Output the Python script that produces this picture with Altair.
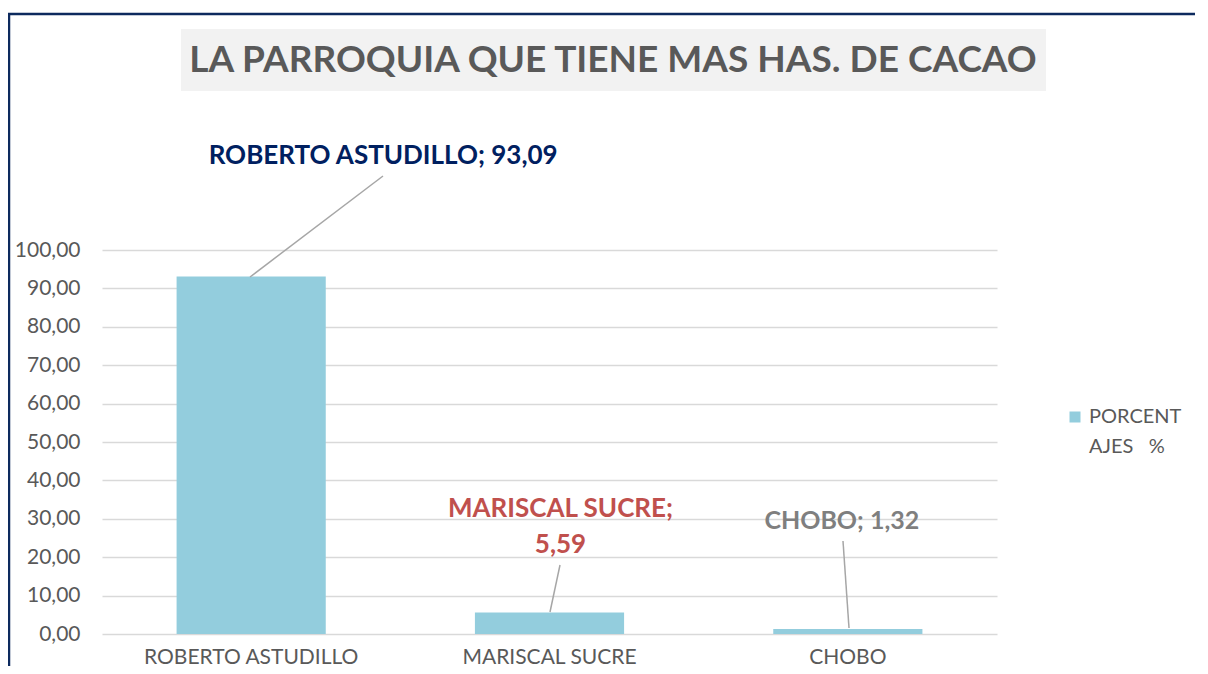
import altair as alt
import pandas as pd

categories = ["ROBERTO ASTUDILLO", "MARISCAL SUCRE", "CHOBO"]
values = [93.09, 5.59, 1.32]
value_labels = ["93,09", "5,59", "1,32"]
series_name = ["PORCENT", "AJES\u00a0\u00a0\u00a0%"]
title_text = "LA PARROQUIA QUE TIENE MAS HAS. DE CACAO"
y_ticks = [0, 10, 20, 30, 40, 50, 60, 70, 80, 90, 100]

FONT = "Lato"
GRAY = "#595959"
BAR = "#93CDDD"

df = pd.DataFrame({"cat": categories, "val": values, "lab": value_labels})
df["label"] = df["cat"] + "; " + df["lab"]
one = pd.DataFrame({"a": [0]})

W, H = 895, 384

xenc = alt.X("cat:N", sort=categories, title=None,
             scale=alt.Scale(paddingInner=0.5, paddingOuter=0.25),
             axis=alt.Axis(labelAngle=0, labelFontSize=21, labelColor=GRAY, labelFont=FONT,
                           domain=False, ticks=False, labelPadding=12, labelBaseline="top",
                           labelLimit=0, labelOverlap=False))
yenc = alt.Y("val:Q", title=None,
             scale=alt.Scale(domain=[0, 100], nice=False),
             axis=alt.Axis(values=y_ticks, tickCount=11,
                           labelExpr="replace(format(datum.value, '.2f'), '.', ',')",
                           labelFontSize=21, labelColor=GRAY, labelFont=FONT, domain=False, ticks=False,
                           labelPadding=22, gridColor="#D9D9D9", gridWidth=1.5,
                           labelOverlap=False, labelFlush=False))

base = alt.Chart(df)

bars = base.mark_bar(color=BAR).encode(x=xenc, y=yenc)

lab_rob = base.transform_filter(alt.datum.cat == categories[0]).mark_text(
    font=FONT, fontSize=26, fontWeight="bold", color="#002060", dx=132, dy=-121, baseline="middle"
).encode(x=xenc, y=yenc, text="label:N")

lab_mar = base.transform_filter(alt.datum.cat == categories[1]).transform_calculate(
    lines="[datum.cat + ';', datum.lab]"
).mark_text(
    font=FONT, fontSize=26, fontWeight="bold", color="#C0504D", dx=11, dy=-104, baseline="middle",
    lineHeight=36
).encode(x=xenc, y=yenc, text="lines:N")

lab_cho = base.transform_filter(alt.datum.cat == categories[2]).mark_text(
    font=FONT, fontSize=25, fontWeight="bold", color="#7F7F7F", dx=-6, dy=-108, baseline="middle"
).encode(x=xenc, y=yenc, text="label:N")

leader_color = "#A6A6A6"
leaders = []
for (x1, y1, x2, y2) in [(281, -74, 148, 27), (458, 315, 448, 362), (741, 291, 747, 378)]:
    leaders.append(alt.Chart(one).mark_rule(color=leader_color, strokeWidth=1.5).encode(
        x=alt.value(x1), y=alt.value(y1), x2=alt.value(x2), y2=alt.value(y2)))

# frame border
border_top = alt.Chart(one).mark_rule(color="#0D2A5E", strokeWidth=2.5).encode(
    x=alt.value(-94), x2=alt.value(1110), y=alt.value(-236))
border_left = alt.Chart(one).mark_rule(color="#0D2A5E", strokeWidth=2.5).encode(
    x=alt.value(-93), y=alt.value(-237), y2=alt.value(440))

title_box = alt.Chart(one).mark_rect(color="#F2F2F2").encode(
    x=alt.value(79), x2=alt.value(944), y=alt.value(-221), y2=alt.value(-159))
title = alt.Chart(pd.DataFrame({"t": [title_text]})).mark_text(
    font=FONT, fontSize=37, fontWeight="bold", color=GRAY, baseline="middle", align="center"
).encode(x=alt.value(511), y=alt.value(-189), text="t:N")

legend_sym = alt.Chart(one).mark_square(color=BAR, size=121, opacity=1).encode(
    x=alt.value(973), y=alt.value(167))
legend_txt = alt.Chart(pd.DataFrame({"t": [series_name]})).mark_text(
    font=FONT, fontSize=20, color=GRAY, align="left", baseline="middle", lineHeight=30
).encode(x=alt.value(987), y=alt.value(167), text="t")

chart = alt.layer(
    title_box, title, border_top, border_left, bars, *leaders, lab_rob, lab_mar, lab_cho,
    legend_sym, legend_txt
).properties(
    width=W, height=H,
    background="white",
    autosize=alt.AutoSizeParams(type="none"),
    padding={"left": 94, "top": 242, "right": 198, "bottom": 32},
).configure_view(stroke=None)

chart.save("out.html", embed_options={"renderer": "svg", "actions": False})
